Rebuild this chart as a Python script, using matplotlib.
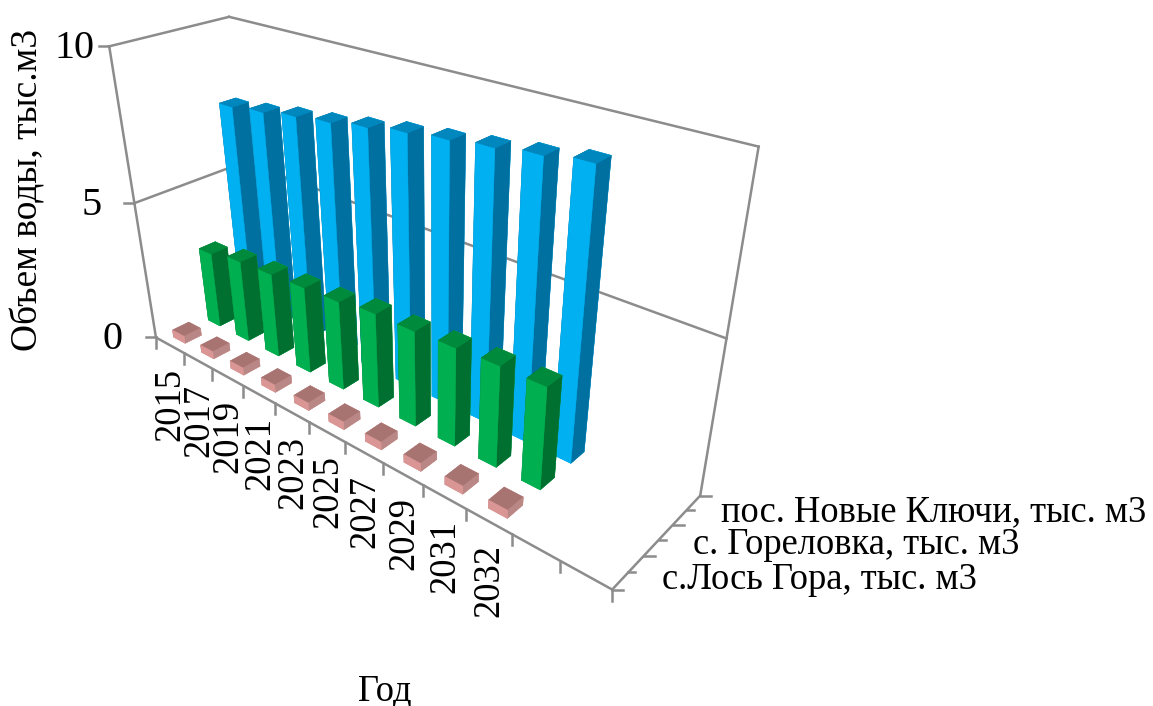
import numpy as np
import matplotlib
matplotlib.use('Agg')
import matplotlib.pyplot as plt
from matplotlib.lines import Line2D

W, H = 1153, 706

# данные
years = ['2015', '2017', '2019', '2021', '2023', '2025', '2027', '2029', '2031', '2032']
series_names = ['с.Лось Гора, тыс. м3', 'с. Гореловка, тыс. м3', 'пос. Новые Ключи, тыс. м3']
los_gora = [0.28, 0.28, 0.28, 0.28, 0.28, 0.28, 0.28, 0.28, 0.28, 0.28]
gorelovka = [2.8, 3.0, 3.05, 3.1, 3.15, 3.3, 3.3, 3.35, 3.4, 3.4]
novye_klyuchi = [7.5, 7.65, 7.85, 8.0, 8.2, 8.4, 8.55, 8.7, 8.87, 9.05]
z_ticks = [0, 5, 10]

n_cat = 12
n_ser = 3
z_max = 10

# калибровка перспективы по углам рамки (как в Excel 3D)
frame_3d = np.array([
    [0, 0, 0], [12, 0, 0], [12, 3, 0], [0, 3, 10], [12, 3, 10], [0, 0, 10],
    [12, 3, 5], [0, 0, 5], [0, 1, 0], [12, 1, 0], [12, 2, 0], [0, 1, 10], [0, 2, 10],
], dtype=float)
frame_px = np.array([
    [156, 338], [611.7, 589.3], [700.7, 495.7], [229, 16], [759, 147], [109, 45],
    [726, 338], [135, 203], [191, 320], [644.3, 556.7], [672.7, 524], [151.7, 36.7], [191.7, 27.3],
], dtype=float)

rows = []
rhs = []
for (x, y, z), (u, v) in zip(frame_3d, frame_px):
    rows.append([x, y, z, 1, 0, 0, 0, 0, -u * x, -u * y, -u * z])
    rhs.append(u)
    rows.append([0, 0, 0, 0, x, y, z, 1, -v * x, -v * y, -v * z])
    rhs.append(v)
p = np.linalg.lstsq(np.array(rows), np.array(rhs), rcond=None)[0]
P = np.array([p[:4], p[4:8], [p[8], p[9], p[10], 1.0]])


def to_px(x, y, z):
    u, v, w = P @ np.array([x, y, z, 1.0])
    return u / w, v / w


fig = plt.figure(figsize=(W / 100, H / 100), dpi=100)
ax = fig.add_axes([0, 0, 1, 1], projection='3d', computed_zorder=False)
ax.apply_aspect = lambda position=None: None
ax.set_axis_off()


def custom_proj():
    flip = np.array([[1, 0, 0], [0, -1, H], [0, 0, 1.0]])
    A = ax.transData.inverted().get_matrix() @ flip @ P
    return np.array([A[0], A[1], [-1, 1, -1, 0], A[2]])


ax.get_proj = custom_proj

grid_c = '#8c8c8c'
lw = 1.8
for z in z_ticks:
    ax.plot([0, 0], [0, n_ser], [z, z], color=grid_c, lw=lw, zorder=1)
    ax.plot([0, n_cat], [n_ser, n_ser], [z, z], color=grid_c, lw=lw, zorder=1)
for y in range(n_ser + 1):
    ax.plot([0, 0], [y, y], [0, z_max], color=grid_c, lw=lw, zorder=1)
    ax.plot([0, n_cat], [y, y], [0, 0], color=grid_c, lw=lw, zorder=1)
ax.plot([n_cat, n_cat], [0, n_ser], [0, 0], color=grid_c, lw=lw, zorder=1)
ax.plot([n_cat, n_cat], [n_ser, n_ser], [0, z_max], color=grid_c, lw=lw, zorder=1)

# цвета граней: низ, верх, перед, зад, лево, право
colors = [
    ['#d99694', '#a87472', '#d99694', '#d99694', '#b98785', '#b98785'],
    ['#00b050', '#008a3c', '#00b050', '#00b050', '#007030', '#007030'],
    ['#00b0f0', '#0088be', '#00b0f0', '#00b0f0', '#0070a0', '#0070a0'],
]
bar_w = 0.42
bar_d = 0.46
series = [los_gora, gorelovka, novye_klyuchi]
for s in [2, 1, 0]:
    for i, val in enumerate(series[s]):
        ax.bar3d(i + 0.5 - bar_w / 2, s + 0.5 - bar_d / 2, 0, bar_w, bar_d, val,
                 color=colors[s], edgecolors=colors[s], linewidth=0.3, shade=False,
                 zorder=10 + (2 - s) * 100 + i)

fs = 26.3


def tick(x, y, z, dx, dy):
    u, v = to_px(x, y, z)
    fig.add_artist(Line2D([u / W, (u + dx) / W], [1 - v / H, 1 - (v + dy) / H], color=grid_c, lw=lw))


def label(x, y, z, dx, dy, s, size=fs, **kw):
    u, v = to_px(x, y, z)
    fig.text((u + dx) / W, 1 - (v + dy) / H, s, fontsize=size, family='Liberation Serif', color='black', **kw)


for z, zdx in zip(z_ticks, [-33, -33, -15]):
    tick(0, 0, z, -10, 0)
    label(0, 0, z, zdx, 2, str(z), size=29, ha='right', va='center')
for i in range(n_cat + 1):
    tick(i, 0, 0, 0, 11)
for i, yr in enumerate(years):
    label(i + 0.5, 0, 0, 1, 23, yr, ha='center', va='top', rotation=90)
for s in range(n_ser + 1):
    tick(n_cat, s, 0, 11, 0)
for s, name in enumerate(series_names):
    tick(n_cat, s + 0.5, 0, 7, 0)
    label(n_cat, s + 0.5, 0, 34, 2 + (2 - s) * 2.5, name, ha='left', va='center')

fig.text(28 / W, 1 - 190 / H, 'Объем воды, тыс.м3', fontsize=27, family='Liberation Serif',
         rotation=90, ha='center', va='center')
fig.text(385 / W, 1 - 691 / H, 'Год', fontsize=fs, family='Liberation Serif', ha='center', va='center')

fig.savefig('out.png', dpi=100)
